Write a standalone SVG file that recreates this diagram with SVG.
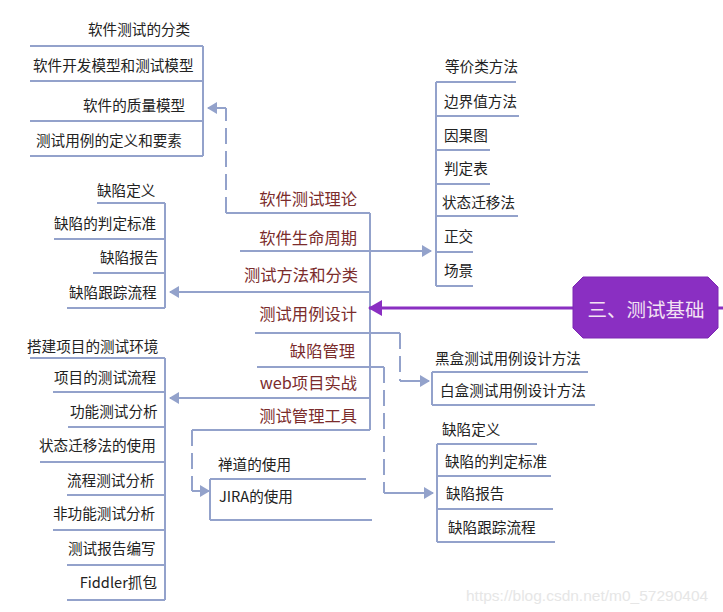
<svg xmlns="http://www.w3.org/2000/svg" width="723" height="612" viewBox="0 0 723 612">
<style>
text{font-family:"Noto Sans CJK SC","Liberation Sans",sans-serif;dominant-baseline:central}
.t{font-size:14.6px;fill:#222}
.c{font-size:16.3px;fill:#7b2c2c}
.ln{stroke:#93a2cb;stroke-width:2;fill:none}
.ds{stroke:#93a2cb;stroke-width:2;fill:none;stroke-dasharray:16 7}
.wm{font-family:"Liberation Sans",Arial,sans-serif;font-size:15.5px;fill:#e6e6e6;dominant-baseline:central}
</style>
<defs>
<marker id="ab" markerWidth="10" markerHeight="12" refX="9" refY="6" orient="auto" markerUnits="userSpaceOnUse">
<path d="M0,0 L10,6 L0,12 Z" fill="#93a2cb"/>
</marker>
<marker id="ap" markerWidth="14" markerHeight="16" refX="13" refY="8" orient="auto" markerUnits="userSpaceOnUse">
<path d="M0,0 L14,8 L0,16 Z" fill="#8a2fc2"/>
</marker>
</defs>
<rect width="723" height="612" fill="#ffffff"/>

<g id="connectors">
<line class="ln" x1="370" y1="213" x2="370" y2="430"/>
<line class="ln" x1="226" y1="213" x2="370" y2="213"/>
<path class="ds" d="M226,213 V108"/>
<line class="ln" x1="226" y1="108" x2="208" y2="108" marker-end="url(#ab)"/>
<line class="ln" x1="240" y1="251" x2="431" y2="251" marker-end="url(#ab)"/>
<line class="ln" x1="370" y1="292" x2="170" y2="292" marker-end="url(#ab)"/>
<line class="ln" x1="255" y1="333" x2="400" y2="333"/>
<path class="ds" d="M400,333 V381"/>
<line class="ln" x1="400" y1="381" x2="429" y2="381" marker-end="url(#ab)"/>
<line class="ln" x1="257" y1="367" x2="384" y2="367"/>
<path class="ds" d="M384,367 V493"/>
<line class="ln" x1="384" y1="493" x2="433" y2="493" marker-end="url(#ab)"/>
<line class="ln" x1="370" y1="398" x2="170" y2="398" marker-end="url(#ab)"/>
<line class="ln" x1="192" y1="430" x2="370" y2="430"/>
<path class="ds" d="M192,430 V491"/>
<line class="ln" x1="192" y1="491" x2="209" y2="491" marker-end="url(#ab)"/>
<line x1="573" y1="308" x2="369" y2="308" stroke="#8a2fc2" stroke-width="3" marker-end="url(#ap)"/>
<line x1="718" y1="308" x2="723" y2="308" stroke="#8a2fc2" stroke-width="3"/>
</g>

<g id="center">
<text class="c" x="357" y="198" text-anchor="end">软件测试理论</text>
<text class="c" x="357" y="237" text-anchor="end">软件生命周期</text>
<text class="c" x="358" y="274" text-anchor="end">测试方法和分类</text>
<text class="c" x="357" y="313" text-anchor="end">测试用例设计</text>
<text class="c" x="355" y="350" text-anchor="end">缺陷管理</text>
<text class="c" x="357" y="382" text-anchor="end">web项目实战</text>
<text class="c" x="357" y="415" text-anchor="end">测试管理工具</text>
</g>

<g id="root">
<path d="M583,277 H708 L718,287 V328 L708,338 H583 L573,328 V287 Z" fill="#8a2fc2" stroke="#7d28b3" stroke-width="1"/>
<text x="646" y="308" text-anchor="middle" style="font-size:19.5px;fill:#f3e2f3">三、测试基础</text>
</g>

<g id="theory">
<line class="ln" x1="203" y1="46" x2="203" y2="156"/>
<line class="ln" x1="30" y1="46" x2="203" y2="46"/>
<line class="ln" x1="30" y1="81" x2="203" y2="81"/>
<line class="ln" x1="30" y1="121" x2="203" y2="121"/>
<line class="ln" x1="30" y1="156" x2="203" y2="156"/>
<text class="t" x="88" y="28">软件测试的分类</text>
<text class="t" x="33" y="64">软件开发模型和测试模型</text>
<text class="t" x="83" y="104">软件的质量模型</text>
<text class="t" x="36" y="139">测试用例的定义和要素</text>
</g>

<g id="defect-left">
<line class="ln" x1="165" y1="203" x2="165" y2="308"/>
<line class="ln" x1="97" y1="203" x2="165" y2="203"/>
<line class="ln" x1="54" y1="239" x2="165" y2="239"/>
<line class="ln" x1="93" y1="273" x2="165" y2="273"/>
<line class="ln" x1="67" y1="308" x2="165" y2="308"/>
<text class="t" x="97" y="189">缺陷定义</text>
<text class="t" x="54" y="222">缺陷的判定标准</text>
<text class="t" x="100" y="256">缺陷报告</text>
<text class="t" x="69" y="291">缺陷跟踪流程</text>
</g>

<g id="web-project">
<line class="ln" x1="165" y1="358" x2="165" y2="600"/>
<line class="ln" x1="30" y1="358" x2="165" y2="358"/>
<line class="ln" x1="53" y1="392" x2="165" y2="392"/>
<line class="ln" x1="68" y1="427" x2="165" y2="427"/>
<line class="ln" x1="40" y1="462" x2="165" y2="462"/>
<line class="ln" x1="67" y1="495" x2="165" y2="495"/>
<line class="ln" x1="53" y1="530" x2="165" y2="530"/>
<line class="ln" x1="67" y1="565" x2="165" y2="565"/>
<line class="ln" x1="67" y1="600" x2="165" y2="600"/>
<text class="t" x="27" y="345">搭建项目的测试环境</text>
<text class="t" x="54" y="376">项目的测试流程</text>
<text class="t" x="70" y="410">功能测试分析</text>
<text class="t" x="39" y="444">状态迁移法的使用</text>
<text class="t" x="67" y="479">流程测试分析</text>
<text class="t" x="53" y="512">非功能测试分析</text>
<text class="t" x="68" y="547">测试报告编写</text>
<text class="t" x="157" y="581" text-anchor="end">Fiddler抓包</text>
</g>

<g id="methods">
<line class="ln" x1="436" y1="82" x2="436" y2="286"/>
<line class="ln" x1="436" y1="82" x2="516" y2="82"/>
<line class="ln" x1="436" y1="116" x2="519" y2="116"/>
<line class="ln" x1="436" y1="150" x2="490" y2="150"/>
<line class="ln" x1="436" y1="184" x2="490" y2="184"/>
<line class="ln" x1="436" y1="216" x2="518" y2="216"/>
<line class="ln" x1="436" y1="252" x2="473" y2="252"/>
<line class="ln" x1="436" y1="286" x2="473" y2="286"/>
<text class="t" x="445" y="65">等价类方法</text>
<text class="t" x="444" y="100">边界值方法</text>
<text class="t" x="444" y="134">因果图</text>
<text class="t" x="444" y="167">判定表</text>
<text class="t" x="442" y="201">状态迁移法</text>
<text class="t" x="444" y="235">正交</text>
<text class="t" x="444" y="269">场景</text>
</g>

<g id="case-design">
<line class="ln" x1="432" y1="372" x2="432" y2="405"/>
<line class="ln" x1="432" y1="372" x2="588" y2="372"/>
<line class="ln" x1="432" y1="405" x2="595" y2="405"/>
<text class="t" x="435" y="357">黑盒测试用例设计方法</text>
<text class="t" x="440" y="389">白盒测试用例设计方法</text>
</g>

<g id="defect-right">
<line class="ln" x1="437" y1="444" x2="437" y2="542"/>
<line class="ln" x1="437" y1="444" x2="537" y2="444"/>
<line class="ln" x1="437" y1="476" x2="551" y2="476"/>
<line class="ln" x1="437" y1="509" x2="553" y2="509"/>
<line class="ln" x1="437" y1="542" x2="555" y2="542"/>
<text class="t" x="442" y="428">缺陷定义</text>
<text class="t" x="445" y="460">缺陷的判定标准</text>
<text class="t" x="446" y="492">缺陷报告</text>
<text class="t" x="448" y="526">缺陷跟踪流程</text>
</g>

<g id="tools">
<line class="ln" x1="210" y1="479" x2="210" y2="520"/>
<line class="ln" x1="210" y1="479" x2="366" y2="479"/>
<line class="ln" x1="210" y1="520" x2="372" y2="520"/>
<text class="t" x="218" y="463">禅道的使用</text>
<text class="t" x="219" y="495">JIRA的使用</text>
</g>

<text class="wm" x="466" y="595">https://blog.csdn.net/m0_57290404</text>
</svg>
